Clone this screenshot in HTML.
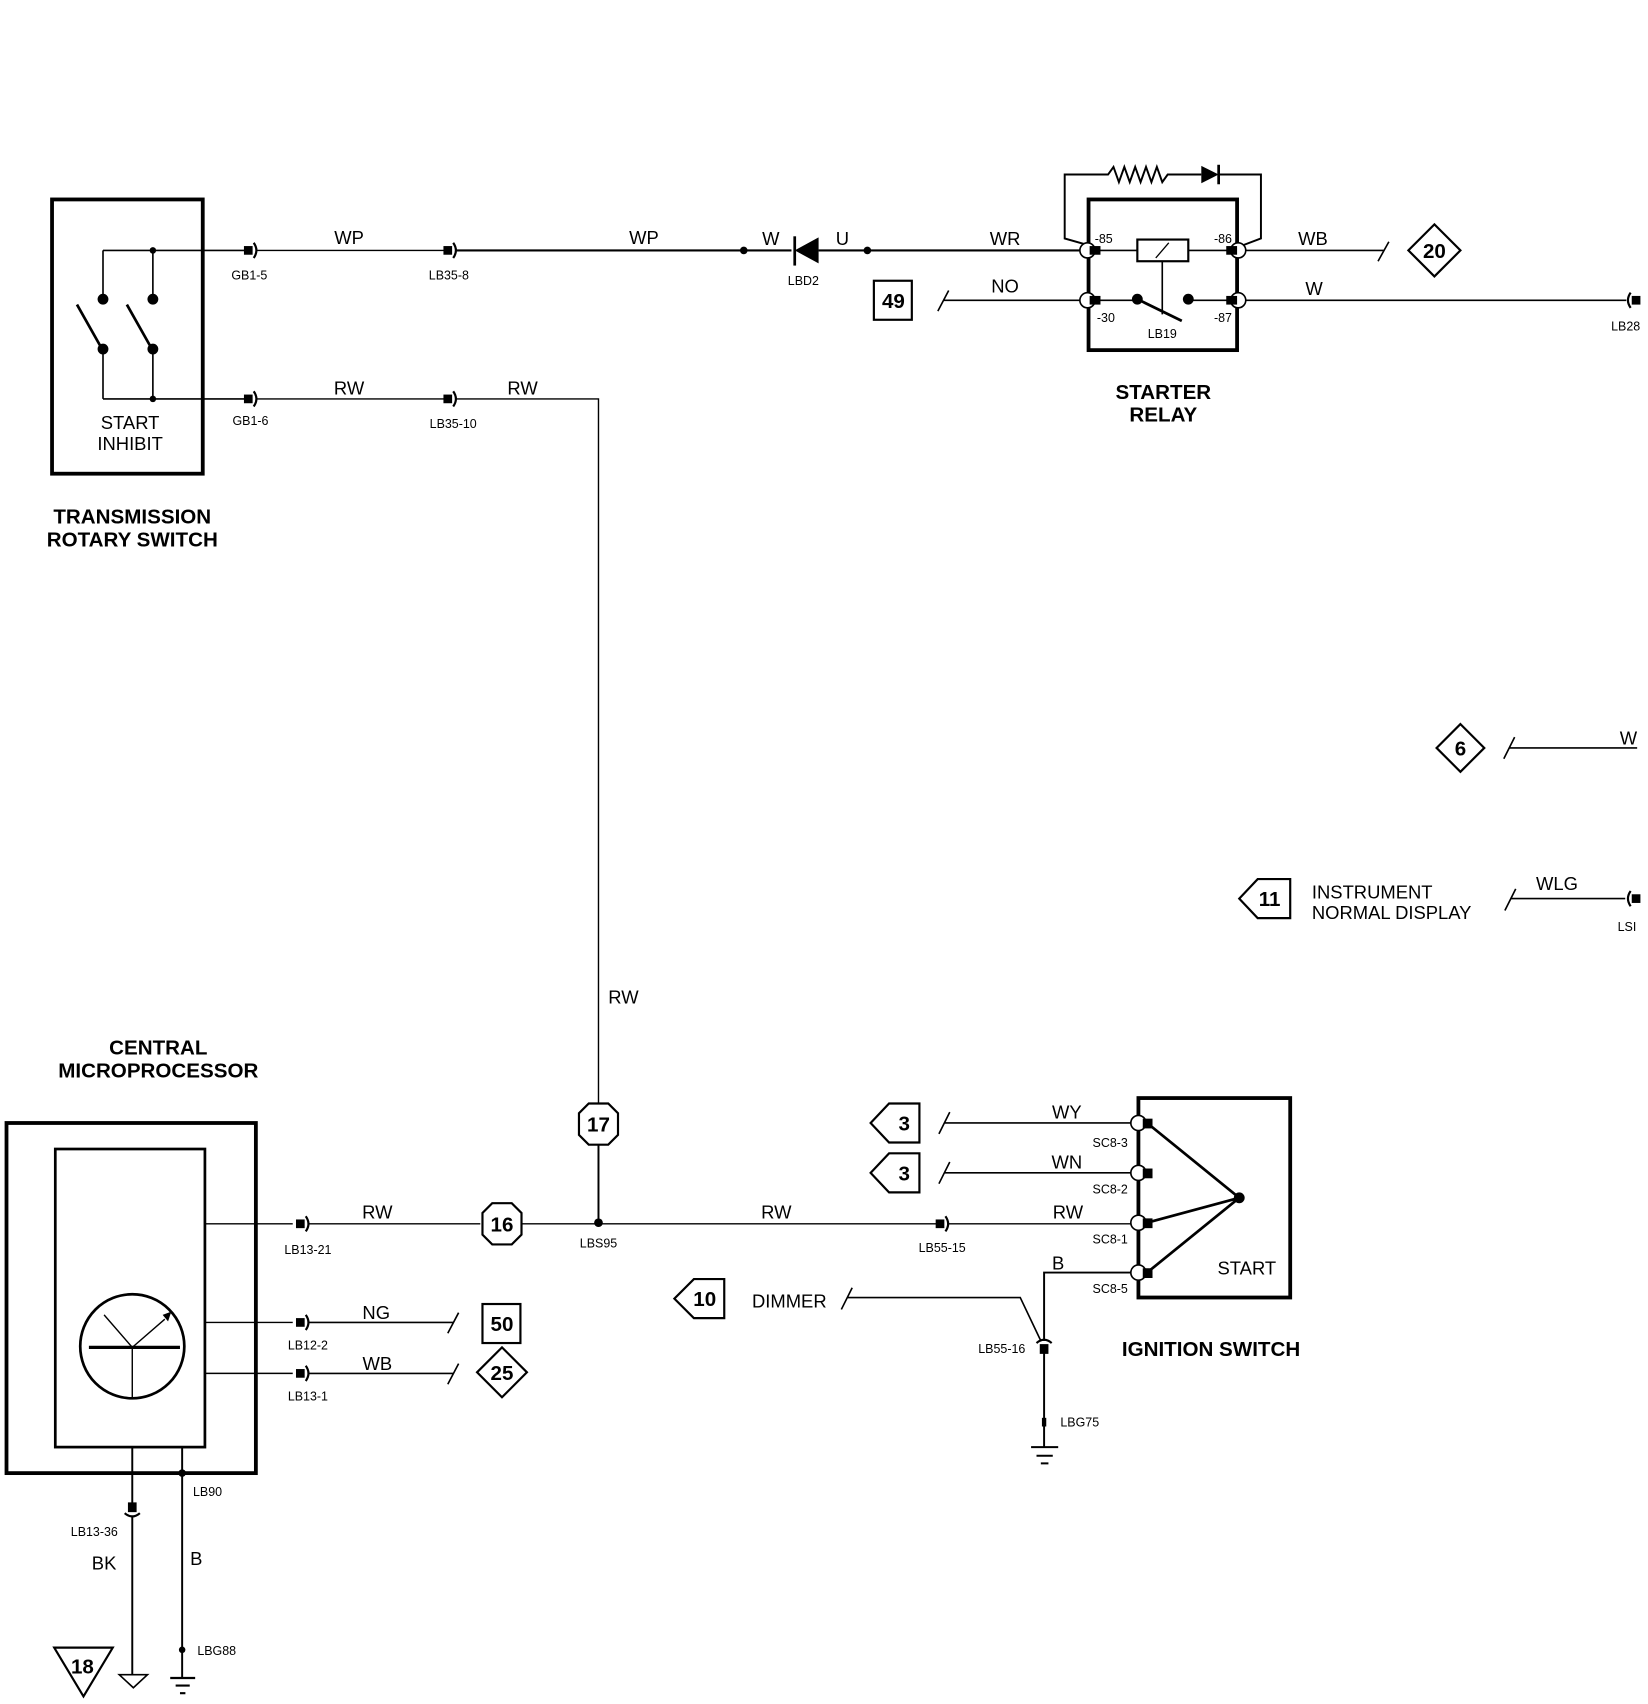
<!DOCTYPE html>
<html><head><meta charset="utf-8"><style>
html,body{margin:0;padding:0;background:#fff;}
svg{display:block}
text{font-family:"Liberation Sans",Arial,sans-serif;fill:#000}
.w{font-size:17px}
.s{font-size:11.5px}
.b{font-size:19px;font-weight:bold}
.n{font-size:19px;font-weight:bold}
</style></head><body>
<svg width="1648" height="1704" viewBox="0 0 1520 1572" preserveAspectRatio="none" xmlns="http://www.w3.org/2000/svg">
<defs>
<g id="cR"><rect x="-7" y="-4" width="8" height="8" fill="#000"/><path d="M2,-7 Q7,0 2,7" fill="none" stroke="#000" stroke-width="2"/></g>
<g id="cL"><rect x="-1" y="-4" width="8" height="8" fill="#000"/><path d="M-2,-7 Q-7,0 -2,7" fill="none" stroke="#000" stroke-width="2"/></g>
<g id="cD"><rect x="-4" y="0" width="8" height="9" fill="#000"/><path d="M-7,-1 Q0,-7 7,-1" fill="none" stroke="#000" stroke-width="2"/></g>
<g id="cU"><rect x="-4" y="-9" width="8" height="9" fill="#000"/><path d="M-7,1 Q0,7 7,1" fill="none" stroke="#000" stroke-width="2"/></g>
</defs>
<g stroke="#000" fill="none">
<rect x="48" y="184" width="139" height="253" stroke-width="3.5"/>
<path d="M95,231 V276 M141,231 V276 M95,322 V368 M141,322 V368 M95,231 H226 M95,368 H226" stroke-width="1.5"/>
<path d="M71,281 L93,320 M117,281 L139,320" stroke-width="2.5"/>
</g>
<g fill="#000"><circle cx="95" cy="276" r="5"/><circle cx="141" cy="276" r="5"/><circle cx="95" cy="322" r="5"/><circle cx="141" cy="322" r="5"/><circle cx="141" cy="231" r="3"/><circle cx="141" cy="368" r="3"/></g>
<use href="#cR" x="232" y="231"/><use href="#cR" x="232" y="368"/>
<use href="#cR" x="416" y="231"/><use href="#cR" x="416" y="368"/>
<g stroke="#000" fill="none" stroke-width="1.3">
<path d="M236,231 H410"/><path d="M420,231 H730" stroke-width="2"/>
<path d="M755,231 H1003" stroke-width="2"/>
<path d="M236,368 H410 M420,368 H552 V1018" />
</g>
<circle cx="686" cy="231" r="3.5"/><circle cx="800" cy="231" r="3.5"/>
<path d="M755,219 L733,231 L755,243 Z" fill="#000"/><path d="M733,218 V245" stroke="#000" stroke-width="2.5"/>
<g stroke="#000" fill="none">
<rect x="1004" y="184" width="137" height="139" stroke-width="3.5"/>
<path d="M1003,226 L982,220 V161 H1022 l5,-7 l5,14 l5,-14 l5,14 l5,-14 l5,14 l5,-14 l5,14 l5,-14 l5,14 l5,-7 H1108 M1124,161 H1163 V220 L1147,226" stroke-width="1.8"/>
<path d="M1010,231 H1049 M1096,231 H1136 M1010,277 H1049 M1096,277 H1136 M1072,241 V290" stroke-width="1.5"/>
<rect x="1049" y="221" width="47" height="20" stroke-width="2"/>
<path d="M1066,238 L1078,224" stroke-width="1.2"/>
<path d="M1049,276 L1090,296" stroke-width="2.5"/>
<circle cx="1003" cy="231" r="7" fill="#fff" stroke-width="1.5"/><circle cx="1003" cy="277" r="7" fill="#fff" stroke-width="1.5"/>
<circle cx="1142" cy="231" r="7" fill="#fff" stroke-width="1.5"/><circle cx="1142" cy="277" r="7" fill="#fff" stroke-width="1.5"/>
</g>
<path d="M1108,153 L1124,161 L1108,169 Z" fill="#000"/><path d="M1124,152 V170" stroke="#000" stroke-width="2.5"/>
<g fill="#000"><rect x="1005" y="227" width="10" height="8"/><rect x="1131" y="227" width="10" height="8"/><rect x="1005" y="273" width="10" height="8"/><rect x="1131" y="273" width="10" height="8"/><circle cx="1049" cy="276" r="5"/><circle cx="1096" cy="276" r="5"/></g>
<g stroke="#000" fill="none" stroke-width="1.5">
<path d="M1149,231 H1276 M1271,241 L1281,223"/>
<path d="M1323,207 L1347,231 L1323,255 L1299,231 Z" stroke-width="2"/>
<rect x="806" y="259" width="35" height="36" stroke-width="2"/>
<path d="M865,287 L875,268 M870,277 H996"/>
<path d="M1149,277 H1500"/>
</g>
<use href="#cL" x="1506" y="277"/>
<g stroke="#000" fill="none" stroke-width="1.5">
<path d="M1347,668 L1369,690 L1347,712 L1325,690 Z" stroke-width="2"/>
<path d="M1387,700 L1397,680 M1392,690 H1510"/>
<path d="M1190,811 H1160 L1143,829 L1160,847 H1190 Z" stroke-width="2"/>
<path d="M1388,840 L1398,820 M1393,829 H1499"/>
</g>
<use href="#cL" x="1506" y="829"/>
<g stroke="#000" fill="none">
<rect x="6" y="1036" width="230" height="323" stroke-width="3.5"/>
<rect x="51" y="1060" width="138" height="275" stroke-width="2.5"/>
<ellipse cx="122" cy="1242" rx="48" ry="48" stroke-width="2.5"/>
<path d="M82,1243 H166" stroke-width="3"/>
<path d="M122,1243 V1290 M122,1243 L96,1213 M122,1243 L152,1217" stroke-width="1.3"/>
<path d="M189,1129 H270 M189,1220 H270 M189,1267 H270" stroke-width="1.3"/>
<path d="M122,1335 V1387 M122,1398 V1545 M168,1335 V1548" stroke-width="1.8"/>
<path d="M110,1545 H136 L123,1557 Z" stroke-width="1.5"/>
<path d="M157,1548 H180 M162,1555 H175 M166,1562 H171" stroke-width="2"/>
<path d="M50,1520 H104 L77,1565 Z" stroke-width="2"/>
</g>
<path d="M158,1210 L150,1213 L155,1219 Z" fill="#000"/>
<circle cx="168" cy="1359" r="3.5"/><circle cx="168" cy="1522" r="3"/>
<use href="#cU" x="122" y="1395"/>
<use href="#cR" x="280" y="1129"/><use href="#cR" x="280" y="1220"/><use href="#cR" x="280" y="1267"/>
<g stroke="#000" fill="none" stroke-width="1.3">
<path d="M285,1129 H443 M481,1129 H864 M875,1129 H1050"/>
<path d="M285,1220 H418 M413,1230 L423,1211 M285,1267 H418 M413,1277 L423,1258" stroke-width="1.5"/>
<rect x="445" y="1203" width="35" height="36" stroke-width="2"/>
<path d="M463,1243 L486,1266 L463,1289 L440,1266 Z" stroke-width="2"/>
<path d="M454,1110 H472 L481,1119 V1139 L472,1148 H454 L445,1139 V1119 Z" stroke-width="2"/>
<path d="M543,1018 H561 L570,1027 V1047 L561,1056 H543 L534,1047 V1027 Z" stroke-width="2"/>
<path d="M552,1056 V1128" stroke-width="1.8"/>
</g>
<circle cx="552" cy="1128" r="4"/>
<use href="#cR" x="870" y="1129"/>
<g stroke="#000" fill="none">
<rect x="1050" y="1013" width="140" height="184" stroke-width="3.5"/>
<path d="M1058,1036 L1143,1105 M1058,1128 L1143,1105 M1058,1174 L1143,1105" stroke-width="2.5"/>
<path d="M848,1018 H820 L803,1036 L820,1054 H848 Z M848,1064 H820 L803,1082 L820,1100 H848 Z M668,1180 H640 L622,1198 L640,1216 H668 Z" stroke-width="2"/>
<path d="M866,1046 L876,1026 M871,1036 H1045 M866,1092 L876,1072 M871,1082 H1045" stroke-width="1.5"/>
<path d="M1045,1174 H963 V1237 M963,1248 V1335 M951,1335 H976 M956,1343 H971 M960,1350 H967" stroke-width="1.8"/>
<path d="M776,1208 L786,1188 M781,1197 H941 L960,1237" stroke-width="1.5"/>
<circle cx="1050" cy="1036" r="7" fill="#fff" stroke-width="1.5"/><circle cx="1050" cy="1082" r="7" fill="#fff" stroke-width="1.5"/><circle cx="1050" cy="1128" r="7" fill="#fff" stroke-width="1.5"/><circle cx="1050" cy="1174" r="7" fill="#fff" stroke-width="1.5"/>
</g>
<g fill="#000"><rect x="1054" y="1032" width="9" height="9"/><rect x="1054" y="1078" width="9" height="9"/><rect x="1054" y="1124" width="9" height="9"/><rect x="1054" y="1170" width="9" height="9"/><circle cx="1143" cy="1105" r="5"/><rect x="961" y="1308" width="4" height="8"/></g>
<use href="#cD" x="963" y="1240"/>
<text class="w" x="322" y="225" text-anchor="middle">WP</text>
<text class="w" x="594" y="225" text-anchor="middle">WP</text>
<text class="w" x="711" y="226" text-anchor="middle">W</text>
<text class="w" x="777" y="226" text-anchor="middle">U</text>
<text class="w" x="927" y="226" text-anchor="middle">WR</text>
<text class="w" x="1211" y="226" text-anchor="middle">WB</text>
<text class="w" x="927" y="270" text-anchor="middle">NO</text>
<text class="w" x="1212" y="272" text-anchor="middle">W</text>
<text class="w" x="322" y="364" text-anchor="middle">RW</text>
<text class="w" x="482" y="364" text-anchor="middle">RW</text>
<text class="s" x="230" y="258" text-anchor="middle">GB1-5</text>
<text class="s" x="414" y="258" text-anchor="middle">LB35-8</text>
<text class="s" x="741" y="263" text-anchor="middle">LBD2</text>
<text class="s" x="231" y="392" text-anchor="middle">GB1-6</text>
<text class="s" x="418" y="395" text-anchor="middle">LB35-10</text>
<text class="s" x="1018" y="224" text-anchor="middle">-85</text>
<text class="s" x="1128" y="224" text-anchor="middle">-86</text>
<text class="s" x="1020" y="297" text-anchor="middle">-30</text>
<text class="s" x="1128" y="297" text-anchor="middle">-87</text>
<text class="s" x="1072" y="312" text-anchor="middle">LB19</text>
<text class="s" x="1486" y="305">LB28</text>
<text class="w" x="120" y="396" text-anchor="middle">START</text>
<text class="w" x="120" y="415" text-anchor="middle">INHIBIT</text>
<text class="b" x="122" y="483" text-anchor="middle">TRANSMISSION</text>
<text class="b" x="122" y="504" text-anchor="middle">ROTARY SWITCH</text>
<text class="b" x="1073" y="368" text-anchor="middle">STARTER</text>
<text class="b" x="1073" y="389" text-anchor="middle">RELAY</text>
<text class="n" x="1323" y="238" text-anchor="middle">20</text>
<text class="n" x="824" y="284" text-anchor="middle">49</text>
<text class="n" x="1347" y="697" text-anchor="middle">6</text>
<text class="w" x="1502" y="687" text-anchor="middle">W</text>
<text class="n" x="1171" y="836" text-anchor="middle">11</text>
<text class="w" x="1210" y="829">INSTRUMENT</text>
<text class="w" x="1210" y="848">NORMAL DISPLAY</text>
<text class="w" x="1436" y="821" text-anchor="middle">WLG</text>
<text class="s" x="1492" y="859">LSI</text>
<text class="w" x="575" y="926" text-anchor="middle">RW</text>
<text class="b" x="146" y="973" text-anchor="middle">CENTRAL</text>
<text class="b" x="146" y="994" text-anchor="middle">MICROPROCESSOR</text>
<text class="n" x="552" y="1044" text-anchor="middle">17</text>
<text class="n" x="463" y="1136" text-anchor="middle">16</text>
<text class="w" x="348" y="1124" text-anchor="middle">RW</text>
<text class="s" x="284" y="1157" text-anchor="middle">LB13-21</text>
<text class="s" x="552" y="1151" text-anchor="middle">LBS95</text>
<text class="w" x="347" y="1217" text-anchor="middle">NG</text>
<text class="n" x="463" y="1228" text-anchor="middle">50</text>
<text class="s" x="284" y="1245" text-anchor="middle">LB12-2</text>
<text class="w" x="348" y="1264" text-anchor="middle">WB</text>
<text class="n" x="463" y="1273" text-anchor="middle">25</text>
<text class="s" x="284" y="1292" text-anchor="middle">LB13-1</text>
<text class="s" x="178" y="1380">LB90</text>
<text class="s" x="87" y="1417" text-anchor="middle">LB13-36</text>
<text class="w" x="96" y="1448" text-anchor="middle">BK</text>
<text class="w" x="181" y="1444" text-anchor="middle">B</text>
<text class="s" x="182" y="1527">LBG88</text>
<text class="n" x="76" y="1544" text-anchor="middle">18</text>
<text class="w" x="716" y="1124" text-anchor="middle">RW</text>
<text class="s" x="869" y="1155" text-anchor="middle">LB55-15</text>
<text class="n" x="834" y="1043" text-anchor="middle">3</text>
<text class="n" x="834" y="1089" text-anchor="middle">3</text>
<text class="w" x="984" y="1032" text-anchor="middle">WY</text>
<text class="w" x="984" y="1078" text-anchor="middle">WN</text>
<text class="w" x="985" y="1124" text-anchor="middle">RW</text>
<text class="w" x="976" y="1171" text-anchor="middle">B</text>
<text class="s" x="1024" y="1058" text-anchor="middle">SC8-3</text>
<text class="s" x="1024" y="1101" text-anchor="middle">SC8-2</text>
<text class="s" x="1024" y="1147" text-anchor="middle">SC8-1</text>
<text class="s" x="1024" y="1193" text-anchor="middle">SC8-5</text>
<text class="w" x="1150" y="1176" text-anchor="middle">START</text>
<text class="b" x="1117" y="1251" text-anchor="middle">IGNITION SWITCH</text>
<text class="n" x="650" y="1205" text-anchor="middle">10</text>
<text class="w" x="728" y="1206" text-anchor="middle">DIMMER</text>
<text class="s" x="924" y="1248" text-anchor="middle">LB55-16</text>
<text class="s" x="978" y="1316">LBG75</text>
</svg>
</body></html>
